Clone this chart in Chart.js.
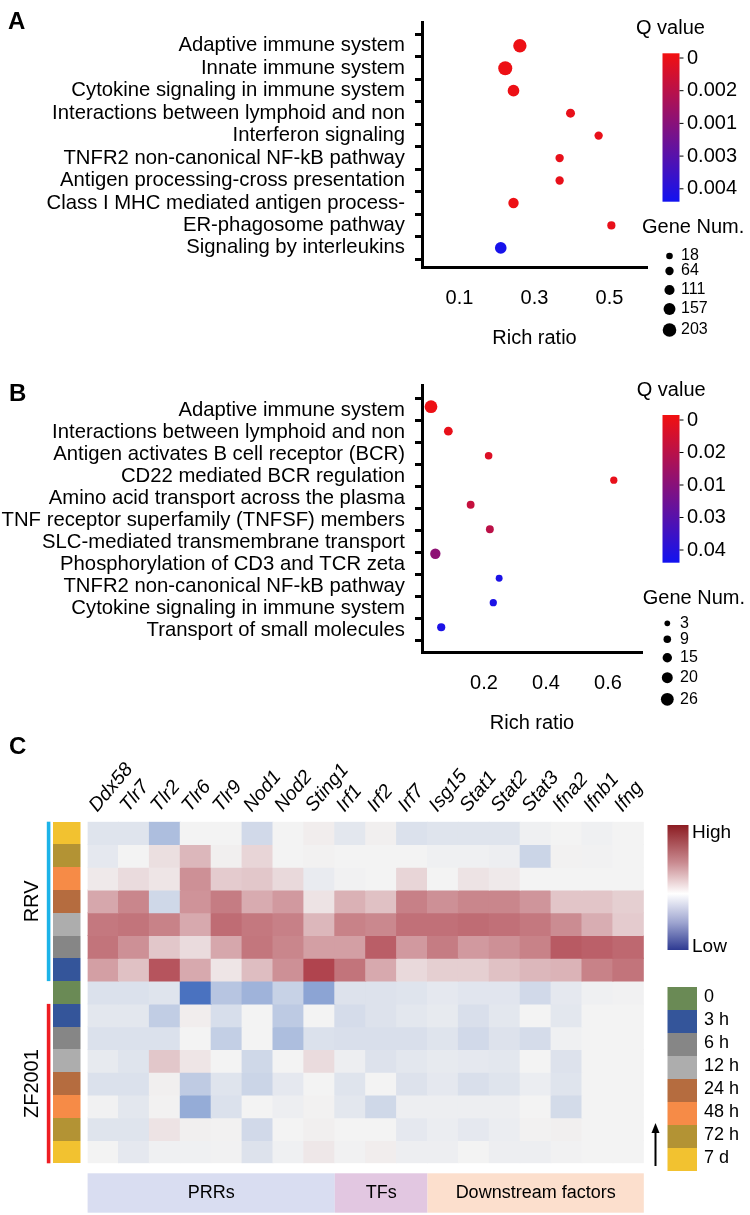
<!DOCTYPE html>
<html>
<head>
<meta charset="utf-8">
<script src="https://cdn.jsdelivr.net/npm/chart.js@4.4.1/dist/chart.umd.min.js"></script>
<style>
  html, body { margin: 0; padding: 0; background: #fff; }
  #page { position: relative; width: 750px; height: 1215px; overflow: hidden; }
  canvas { position: absolute; left: 0; }
</style>
</head>
<body>
<div id="page">
  <canvas id="chartA" width="750" height="360" style="top:0px"></canvas>
  <canvas id="chartB" width="750" height="390" style="top:360px"></canvas>
  <canvas id="chartC" width="750" height="495" style="top:720px"></canvas>
</div>
<script>
// --- PANEL A DATA ---
const catsA = ['Adaptive immune system', 'Innate immune system', 'Cytokine signaling in immune system',
  'Interactions between lymphoid and non', 'Interferon signaling', 'TNFR2 non-canonical NF-kB pathway',
  'Antigen processing-cross presentation', 'Class I MHC mediated antigen process-', 'ER-phagosome pathway',
  'Signaling by interleukins'];
const richA = [0.261, 0.222, 0.244, 0.396, 0.471, 0.367, 0.367, 0.244, 0.505, 0.21];
const genesA = [196, 214, 152, 81, 64, 64, 64, 117, 60, 152];
const qA = [0.0001, 0.0001, 0.0001, 0.0002, 0.0002, 0.0002, 0.0002, 0.0001, 0.0002, 0.0044];
const qMaxA = 0.0045;
const richTicksA = [0.1, 0.3, 0.5];
const qTicksA = ['0', '0.002', '0.001', '0.003', '0.004'];
const sizeBreaksA = [18, 64, 111, 157, 203];

// --- PANEL B DATA ---
const catsB = ['Adaptive immune system', 'Interactions between lymphoid and non', 'Antigen activates B cell receptor (BCR)',
  'CD22 mediated BCR regulation', 'Amino acid transport across the plasma', 'TNF receptor superfamily (TNFSF) members',
  'SLC-mediated transmembrane transport', 'Phosphorylation of CD3 and TCR zeta', 'TNFR2 non-canonical NF-kB pathway',
  'Cytokine signaling in immune system', 'Transport of small molecules'];
// the figure shows 10 dots on its own row grid next to 11 labels
const richB = [0.029, 0.085, 0.215, 0.619, 0.157, 0.219, 0.043, 0.249, 0.23, 0.062];
const genesB = [26, 13, 9, 8, 10, 10, 18, 7, 8, 11];
const qB = [0.001, 0.002, 0.0045, 0.002, 0.009, 0.011, 0.02, 0.043, 0.043, 0.043];
const qMaxB = 0.045;
const richTicksB = [0.2, 0.4, 0.6];
const qTicksB = ['0', '0.02', '0.01', '0.03', '0.04'];
const sizeBreaksB = [3, 9, 15, 20, 26];

// --- PANEL C DATA ---
const genes = ['Ddx58', 'Tlr7', 'Tlr2', 'Tlr6', 'Tlr9', 'Nod1', 'Nod2', 'Sting1', 'Irf1', 'Irf2', 'Irf7',
  'Isg15', 'Stat1', 'Stat2', 'Stat3', 'Ifna2', 'Ifnb1', 'Ifng'];
const rowTimes = ['7 d', '72 h', '48 h', '24 h', '12 h', '6 h', '3 h', '0', '3 h', '6 h', '12 h', '24 h', '48 h', '72 h', '7 d'];
const heat = [
  [-0.1, -0.1, -0.35, 0, 0, -0.17, 0, 0.03, -0.08, 0.02, -0.12, -0.1, -0.1, -0.1, -0.02, 0, -0.02, 0],
  [-0.07, 0, 0.1, 0.3, 0.02, 0.15, 0, 0.01, 0, 0, 0, -0.02, -0.02, -0.03, -0.2, 0.01, -0.01, 0],
  [0.05, 0.12, 0.07, 0.5, 0.2, 0.22, 0.13, -0.05, -0.01, 0, 0.15, 0, 0.08, 0.05, 0, 0, 0, 0],
  [0.38, 0.55, -0.18, 0.48, 0.6, 0.36, 0.45, 0.08, 0.33, 0.25, 0.58, 0.5, 0.55, 0.55, 0.47, 0.23, 0.23, 0.18],
  [0.62, 0.64, 0.57, 0.37, 0.68, 0.62, 0.58, 0.3, 0.57, 0.54, 0.66, 0.66, 0.68, 0.66, 0.62, 0.52, 0.35, 0.2],
  [0.64, 0.5, 0.22, 0.12, 0.38, 0.63, 0.55, 0.42, 0.42, 0.75, 0.45, 0.6, 0.45, 0.5, 0.57, 0.77, 0.74, 0.7],
  [0.42, 0.25, 0.8, 0.37, 0.07, 0.27, 0.5, 0.88, 0.64, 0.37, 0.13, 0.18, 0.18, 0.25, 0.3, 0.32, 0.57, 0.64],
  [-0.12, -0.12, -0.1, -0.85, -0.3, -0.42, -0.22, -0.52, -0.11, -0.11, -0.1, -0.07, -0.09, -0.09, -0.17, -0.07, -0.02, -0.01],
  [-0.08, -0.08, -0.25, 0.03, -0.14, 0, -0.27, 0, -0.15, -0.11, -0.08, -0.06, -0.13, -0.08, 0, -0.08, 0, 0],
  [-0.12, -0.12, -0.12, 0, -0.24, 0, -0.35, -0.12, -0.13, -0.13, -0.13, -0.1, -0.17, -0.11, -0.15, -0.02, 0, 0],
  [-0.06, -0.1, 0.22, 0.07, 0, -0.18, 0, 0.12, -0.03, -0.11, -0.08, -0.06, -0.07, -0.08, 0, -0.11, 0, 0],
  [-0.12, -0.12, 0.02, -0.26, -0.1, -0.2, -0.07, 0, -0.1, 0, -0.11, -0.07, -0.13, -0.1, -0.04, -0.1, 0, 0],
  [-0.01, -0.08, 0.01, -0.47, -0.12, 0, -0.03, 0.01, -0.08, -0.18, -0.03, -0.03, -0.03, -0.03, 0, -0.16, 0, 0],
  [-0.1, -0.1, 0.08, 0.02, 0.01, -0.17, 0, 0.02, 0, 0, -0.07, -0.04, -0.07, -0.04, 0.01, 0.02, 0, 0],
  [0, -0.07, -0.02, -0.02, -0.01, -0.11, -0.02, 0.06, -0.01, 0.03, -0.03, -0.03, 0, -0.03, -0.03, -0.01, 0, 0]
];
const timeLabels = ['0', '3 h', '6 h', '12 h', '24 h', '48 h', '72 h', '7 d'];
const timeColors = ['#6a8a55', '#34559a', '#868686', '#adadad', '#b56c3f', '#f68b47', '#b39334', '#f2c230'];
const rowGroups = [
  { name: 'RRV', from: 0, to: 6, color: '#1cb3e8' },
  { name: 'ZF2001', from: 8, to: 14, color: '#ee1d23' }
];
const geneGroups = [
  { name: 'PRRs', from: 0, to: 7, color: '#d9ddf1' },
  { name: 'TFs', from: 8, to: 10, color: '#e2c7e1' },
  { name: 'Downstream factors', from: 11, to: 17, color: '#fcdfcd' }
];

const FONT = '"Liberation Sans", Arial, Helvetica, sans-serif';
Chart.defaults.font.family = FONT;
Chart.defaults.color = '#000';

// --- COLOUR AND SIZE HELPERS ---
function mix(a, b, t) {
  return `rgb(${Math.round(a[0] + (b[0] - a[0]) * t)}, ${Math.round(a[1] + (b[1] - a[1]) * t)}, ${Math.round(a[2] + (b[2] - a[2]) * t)})`;
}
function qColor(t) {
  t = Math.max(0, Math.min(1, t));
  return mix([242, 16, 16], [18, 18, 240], t);
}
function heatColor(v) {
  const mid = [243, 243, 243];
  return v >= 0 ? mix(mid, [167, 44, 56], Math.min(v, 1)) : mix(mid, [44, 91, 183], Math.min(-v, 1));
}
const radiusA = n => 3.3 + (n - 18) / (203 - 18) * 3.5;
const radiusB = n => 2.85 + (n - 3) / (26 - 3) * 3.55;

// --- DOT PLOT LEGEND (Q value bar + gene number sizes) ---
function makeDotLegend(cfg) {
  return {
    id: 'dotLegend' + cfg.tag,
    afterDraw(chart) {
      const ctx = chart.ctx;
      ctx.save();
      ctx.fillStyle = '#000';
      ctx.textAlign = 'left';
      ctx.textBaseline = 'alphabetic';
      ctx.font = 'bold 24px ' + FONT;
      ctx.fillText(cfg.tag, cfg.tagX, cfg.tagY);

      ctx.font = '20px ' + FONT;
      ctx.textBaseline = 'middle';
      ctx.fillText('Q value', cfg.qTitleX, cfg.qTitleY);
      const g = ctx.createLinearGradient(0, cfg.barTop, 0, cfg.barBottom);
      [0, 0.25, 0.5, 0.75, 1].forEach(t => g.addColorStop(t, qColor(t)));
      ctx.fillStyle = g;
      ctx.fillRect(cfg.barX, cfg.barTop, cfg.barW, cfg.barBottom - cfg.barTop);
      ctx.fillStyle = '#000';
      ctx.strokeStyle = '#000';
      ctx.lineWidth = 1;
      cfg.qTicks.forEach((lab, i) => {
        const yy = cfg.qTickTop + i * cfg.qTickStep;
        ctx.beginPath();
        ctx.moveTo(cfg.barX + cfg.barW, yy);
        ctx.lineTo(cfg.barX + cfg.barW + 4, yy);
        ctx.stroke();
        ctx.fillText(lab, cfg.qLabelX, yy);
      });

      ctx.fillText('Gene Num.', cfg.sizeTitleX, cfg.sizeTitleY);
      ctx.font = '16px ' + FONT;
      cfg.sizeBreaks.forEach((n, i) => {
        const yy = cfg.sizeY[i];
        ctx.beginPath();
        ctx.arc(cfg.sizeDotX, yy, cfg.radius(n), 0, Math.PI * 2);
        ctx.fill();
        ctx.fillText(String(n), cfg.sizeLabelX, yy);
      });
      ctx.restore();
    }
  };
}

// --- AXIS BUILDERS FOR THE DOT PLOTS ---
function tickAxis(min, max, n) {
  return {
    type: 'linear', position: 'left', weight: 0, min, max, reverse: true, bounds: 'data',
    afterBuildTicks: s => { s.ticks = Array.from({ length: n + 1 }, (_, i) => ({ value: i - 0.5 })); },
    afterFit: s => { s.width = 7; },
    ticks: { autoSkip: false, padding: 0, callback: () => '' },
    grid: { drawOnChartArea: false, tickLength: 7, tickWidth: 3, tickColor: '#000' },
    border: { color: '#000', width: 3 }
  };
}
function labelAxis(min, max, cats) {
  return {
    type: 'linear', position: 'left', weight: 1, min, max, reverse: true, bounds: 'data',
    afterBuildTicks: s => { s.ticks = cats.map((_, i) => ({ value: i })); },
    afterFit: s => { s.width = 415; },
    ticks: { autoSkip: false, padding: 10, font: { size: 20.3 }, color: '#000', callback: v => cats[Math.round(v)] },
    grid: { drawOnChartArea: false, drawTicks: false },
    border: { display: false }
  };
}
function richAxis(max, tickVals, height, titlePad) {
  return {
    type: 'linear', min: 0, max, bounds: 'data',
    afterBuildTicks: s => { s.ticks = tickVals.map(v => ({ value: v })); },
    afterFit: s => { s.height = height; },
    ticks: { autoSkip: false, padding: 19, font: { size: 20 }, color: '#000', callback: v => String(v) },
    grid: { drawOnChartArea: false, drawTicks: false },
    border: { color: '#000', width: 3 },
    title: { display: true, text: 'Rich ratio', font: { size: 20 }, color: '#000', padding: { top: 0, bottom: titlePad } }
  };
}

const common = {
  responsive: false,
  animation: false,
  events: [],
  plugins: { legend: { display: false }, tooltip: { enabled: false } }
};

// --- PANEL A ---
new Chart(document.getElementById('chartA'), {
  type: 'scatter',
  data: {
    datasets: [{
      data: richA.map((v, i) => ({ x: v, y: i })),
      yAxisID: 'y',
      pointRadius: c => radiusA(genesA[c.dataIndex]),
      pointBackgroundColor: c => qColor(qA[c.dataIndex] / qMaxA),
      pointBorderWidth: 0
    }]
  },
  options: {
    ...common,
    layout: { padding: { top: 3, right: 103, bottom: 0, left: 0 } },
    scales: {
      x: richAxis(0.6, richTicksA, 93, 10),
      y: tickAxis(-1.05, 9.85, catsA.length),
      yl: labelAxis(-1.05, 9.85, catsA)
    }
  },
  plugins: [makeDotLegend({
    tag: 'A', tagX: 8, tagY: 29,
    qTitleX: 636, qTitleY: 28,
    barX: 662.5, barW: 17, barTop: 53.3, barBottom: 201.7,
    qTicks: qTicksA, qTickTop: 58, qTickStep: 32.7, qLabelX: 687,
    sizeTitleX: 642, sizeTitleY: 227,
    sizeBreaks: sizeBreaksA, radius: radiusA, sizeDotX: 669.5, sizeLabelX: 681,
    sizeY: [256, 271, 290, 309, 330]
  })]
});

// --- PANEL B ---
new Chart(document.getElementById('chartB'), {
  type: 'scatter',
  data: {
    datasets: [{
      data: richB.map((v, i) => ({ x: v, y: i })),
      yAxisID: 'yd',
      pointRadius: c => radiusB(genesB[c.dataIndex]),
      pointBackgroundColor: c => qColor(qB[c.dataIndex] / qMaxB),
      pointBorderWidth: 0
    }]
  },
  options: {
    ...common,
    layout: { padding: { top: 25, right: 108, bottom: 0, left: 0 } },
    scales: {
      x: richAxis(0.71, richTicksB, 98, 15),
      y: tickAxis(-1.136, 11, catsB.length),
      yl: labelAxis(-1.136, 11, catsB),
      yd: { type: 'linear', display: false, min: -0.886, max: 10.01, reverse: true, bounds: 'data' }
    }
  },
  plugins: [makeDotLegend({
    tag: 'B', tagX: 9, tagY: 41,
    qTitleX: 636.7, qTitleY: 30,
    barX: 662.5, barW: 17, barTop: 55, barBottom: 202.7,
    qTicks: qTicksB, qTickTop: 60, qTickStep: 32.5, qLabelX: 687,
    sizeTitleX: 642.7, sizeTitleY: 238,
    sizeBreaks: sizeBreaksB, radius: radiusB, sizeDotX: 667.3, sizeLabelX: 680,
    sizeY: [263.3, 279.3, 297.7, 317.7, 339.3]
  })]
});

// --- PANEL C: HEATMAP ANNOTATIONS ---
const heatAnno = {
  id: 'heatAnno',
  afterDraw(chart) {
    const { ctx, scales: { x, y } } = chart;
    const half = (x.getPixelForValue(1) - x.getPixelForValue(0)) / 2;
    const rowTop = r => y.getPixelForValue(r);
    ctx.save();
    ctx.fillStyle = '#000';
    ctx.font = 'bold 24px ' + FONT;
    ctx.textAlign = 'left';
    ctx.textBaseline = 'alphabetic';
    ctx.fillText('C', 9, 34);

    // time annotation column
    rowTimes.forEach((t, r) => {
      const t0 = Math.round(rowTop(r)), t1 = Math.round(rowTop(r + 1));
      ctx.fillStyle = timeColors[timeLabels.indexOf(t)];
      ctx.fillRect(53, t0, 27.5, t1 - t0);
    });

    // group bars and names
    ctx.font = '20px ' + FONT;
    ctx.textAlign = 'center';
    ctx.textBaseline = 'middle';
    rowGroups.forEach(gr => {
      const t0 = rowTop(gr.from), t1 = rowTop(gr.to + 1);
      ctx.fillStyle = gr.color;
      ctx.fillRect(46.8, t0, 3.6, t1 - t0);
      ctx.save();
      ctx.translate(32, (t0 + t1) / 2);
      ctx.rotate(-Math.PI / 2);
      ctx.fillStyle = '#000';
      ctx.fillText(gr.name, 0, 0);
      ctx.restore();
    });

    // gene group bar
    ctx.font = '18px ' + FONT;
    geneGroups.forEach(gg => {
      const x0 = x.getPixelForValue(gg.from) - half, x1 = x.getPixelForValue(gg.to) + half;
      ctx.fillStyle = gg.color;
      ctx.fillRect(x0, 453.3, x1 - x0, 39.4);
      ctx.fillStyle = '#000';
      ctx.fillText(gg.name, (x0 + x1) / 2, 473);
    });

    // expression colour bar
    const g = ctx.createLinearGradient(0, 105, 0, 230);
    g.addColorStop(0, '#8c1c22');
    g.addColorStop(0.3, '#c98a90');
    g.addColorStop(0.55, '#ffffff');
    g.addColorStop(0.78, '#9ea5d0');
    g.addColorStop(1, '#2e3a92');
    ctx.fillStyle = g;
    ctx.fillRect(667.5, 105, 21, 125);
    ctx.fillStyle = '#000';
    ctx.textAlign = 'left';
    ctx.font = '19px ' + FONT;
    ctx.fillText('High', 692, 113);
    ctx.fillText('Low', 692, 226.7);

    // time legend
    ctx.font = '18px ' + FONT;
    timeLabels.forEach((lab, i) => {
      ctx.fillStyle = timeColors[i];
      ctx.fillRect(667.5, 267 + i * 23, 29.5, 23);
      ctx.fillStyle = '#000';
      ctx.fillText(lab, 704, 277.5 + i * 23);
    });

    // arrow
    ctx.strokeStyle = '#000';
    ctx.lineWidth = 2;
    ctx.beginPath();
    ctx.moveTo(655.5, 446);
    ctx.lineTo(655.5, 410);
    ctx.stroke();
    ctx.beginPath();
    ctx.moveTo(655.5, 403);
    ctx.lineTo(651.5, 413);
    ctx.lineTo(659.5, 413);
    ctx.closePath();
    ctx.fillStyle = '#000';
    ctx.fill();
    ctx.restore();
  }
};

new Chart(document.getElementById('chartC'), {
  type: 'bar',
  data: {
    labels: genes,
    datasets: heat.map((row, r) => ({
      data: row.map(() => [r, r + 1]),
      backgroundColor: row.map(heatColor),
      borderWidth: 0,
      grouped: false,
      barPercentage: 1,
      categoryPercentage: 1,
      inflateAmount: 0.5
    }))
  },
  options: {
    ...common,
    layout: { padding: { top: 0, right: 106.2, bottom: 51.7, left: 87.6 } },
    scales: {
      x: {
        type: 'category', position: 'top', offset: true,
        afterFit: s => { s.height = 101.7; },
        ticks: { autoSkip: false, minRotation: 50, maxRotation: 50, padding: 5, labelOffset: 8, color: '#000',
          font: { size: 19.5, style: 'italic' } },
        grid: { display: false, drawTicks: false },
        border: { display: false }
      },
      y: { type: 'linear', display: false, min: 0, max: heat.length, reverse: true }
    }
  },
  plugins: [heatAnno]
});
</script>
</body>
</html>
